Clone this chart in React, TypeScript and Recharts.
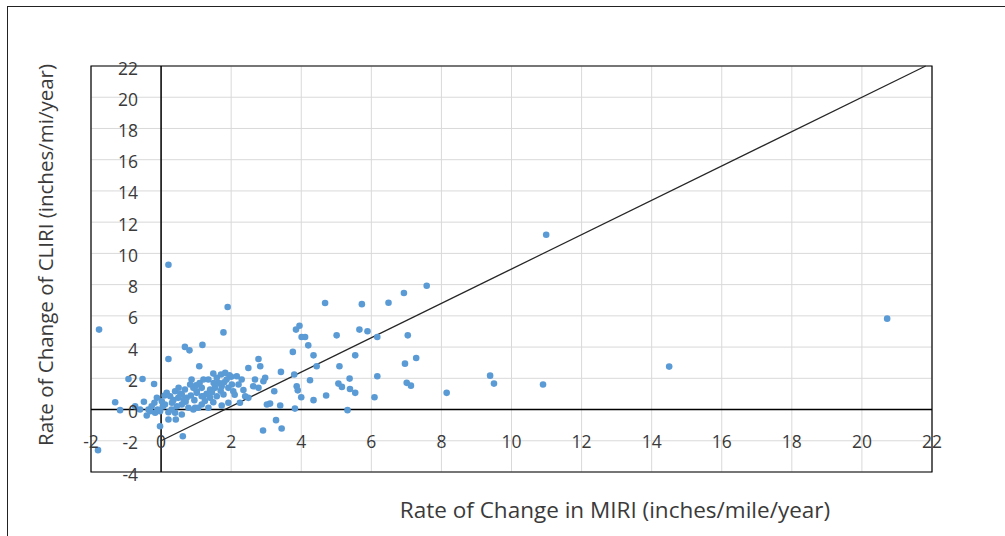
import React from 'react';
import { ScatterChart, Scatter, XAxis, YAxis, CartesianGrid, ReferenceLine, ReferenceArea } from 'recharts';

const WIDTH = 1005;
const HEIGHT = 536;
const MARGIN = { top: 66, right: 73, bottom: 63, left: 90 };
const AXIS_SIZE = 1;
const X_DOMAIN: [number, number] = [-2, 22];
const Y_DOMAIN: [number, number] = [-4, 22];
const xTicks = [-2, 0, 2, 4, 6, 8, 10, 12, 14, 16, 18, 20, 22];
const yTicks = [-4, -2, 0, 2, 4, 6, 8, 10, 12, 14, 16, 18, 20, 22];

const xTitle = 'Rate of Change in MIRI (inches/mile/year)';
const yTitle = 'Rate of Change of CLIRI (inches/mi/year)';

// Rate of change in MIRI (x)
const miriRates = [
  20.72, 14.5, 10.99, 10.9, 9.39, 9.5, 8.15, 7.58, 6.93, 6.49, 5.73, 4.68, 7.04, 7.28, 6.96, 7.01, 7.13,
  6.17, 5.89, 5.66, 5.01, 5.54, 5.09, 5.38, 5.06, 5.16, 5.39, 5.54, 6.17, 6.09, 5.32, 4.71, 4.35, 4.0,
  4.25, 4.44, 4.35, 4.2, 4.01, 4.11, 3.85, 3.95, 3.76, 3.42, 3.8, 3.87, 3.9, 3.82, 3.4, 3.23, 3.28, 3.44,
  3.11, 2.91, 3.02, 2.78, 2.83, 2.49, 2.97, 2.92, 2.68, 2.63, 2.78, 2.16, 2.21, 2.3, 2.4, 2.49, 2.25,
  1.83, 1.71, 1.49, 1.87, 1.59, 1.35, 1.21, 2.02, 1.92, 1.73, 1.54, 1.4, 1.16, 1.02, 2.06, 1.78, 1.59,
  1.4, 1.21, 1.92, 1.73, 1.49, 1.35, 1.16, 0.97, 1.9, 1.78, 1.18, 0.68, 0.81, 1.09, 0.21, 0.21, -1.77,
  -1.8, -1.31, -1.17, -0.93, -0.53, -0.2, -0.74, -0.36, -0.41, -0.6, -0.49, -0.19, -0.03, 0.21, 0.42,
  0.62, 0.87, 0.83, 0.92, 0.68, 0.59, 0.73, 1.02, 1.16, 0.16, 0.26, 0.4, 0.49, -0.12, 0.02, 0.11, 0.31,
  0.45, 0.59, 0.78, 0.92, 1.06, -0.27, -0.31, -0.17, -0.03, 0.21, 0.4, 0.59, 0.1, 0.35, 0.55, 0.7, 0.85,
  0.95, 1.1, 1.3, 1.25, 1.45, 1.65, 1.7, 1.95, 2.1, 2.35, 0.3, 0.05, -0.1, 0.65, 0.5, 1.0, 1.5, 1.8, 2.0,
];

// Rate of change of CLIRI (y)
const cliriRates = [
  5.82, 2.75, 11.19, 1.6, 2.17, 1.66, 1.07, 7.93, 7.46, 6.84, 6.75, 6.82, 4.75, 3.3, 2.94, 1.71, 1.53,
  4.65, 5.01, 5.12, 4.75, 3.47, 2.77, 1.98, 1.66, 1.45, 1.32, 1.07, 2.13, 0.79, -0.04, 0.9, 0.6, 0.79,
  1.88, 2.77, 3.47, 4.11, 4.65, 4.65, 5.12, 5.37, 3.69, 2.41, 2.24, 1.49, 1.23, 0.06, 0.26, 1.17, -0.68, -1.21,
  0.38, -1.34, 0.32, 3.24, 2.77, 2.66, 2.03, 1.81, 1.92, 1.49, 1.39, 2.13, 1.6, 1.92, 0.85, 0.75, 0.43,
  2.35, 2.24, 2.3, 1.92, 2.03, 1.92, 1.92, 1.6, 1.39, 1.49, 1.39, 1.28, 1.39, 1.17, 1.17, 0.96, 0.85,
  0.75, 0.85, 0.43, 0.26, 0.47, 0.11, 0.32, 0.11, 6.57, 4.94, 4.14, 4.01, 3.79, 2.77, 3.24, 9.27, 5.12,
  -2.6, 0.47, -0.04, 1.96, 1.96, 1.64, 0.21, 0.0, -0.38, 0.0, 0.5, 0.43, -1.07, -0.64, -0.64,
  -1.71, 1.92, 1.6, 1.39, 1.28, 0.96, 0.75, 1.07, 0.85, 1.07, 0.85, 1.17, 0.75, 0.75, 0.53, 0.32, 0.43,
  0.21, 0.32, 0.11, 0.0, 0.11, 0.21, -0.11, -0.21, -0.11, -0.17, -0.21, -0.32, 0.9, 0.6, 1.0, 0.5, 0.9,
  0.6, 1.7, 1.0, 0.55, 1.1, 1.7, 1.2, 2.2, 0.95, 1.25, 0.0, 0.2, 0.0, 0.6, 1.4, 1.55, 1.7, 1.75, 2.1,
];

// Reference line y = 1.1x - 2, drawn from x = 0 to the top of the plot
const lineStart = { x: 0, y: -2 };
const lineEnd = { x: 21.82, y: 22 };

const data = miriRates.map((x, i) => ({ x, y: cliriRates[i] }));

const PLOT_LEFT = MARGIN.left + AXIS_SIZE;
const PLOT_TOP = MARGIN.top;
const PLOT_W = WIDTH - PLOT_LEFT - MARGIN.right;
const PLOT_H = HEIGHT - MARGIN.top - MARGIN.bottom - AXIS_SIZE;
const ZERO_X_PX = PLOT_LEFT + (PLOT_W * (0 - X_DOMAIN[0])) / (X_DOMAIN[1] - X_DOMAIN[0]);
const ZERO_Y_PX = PLOT_TOP + (PLOT_H * (Y_DOMAIN[1] - 0)) / (Y_DOMAIN[1] - Y_DOMAIN[0]);

const FONT = '"Open Sans", "Noto Sans", sans-serif';
const TEXT_COLOR = '#3a3a3a';

const XTick = (props: any) => {
  const { x, payload } = props;
  return (
    <text x={x} y={ZERO_Y_PX + 38} textAnchor="middle" fontFamily={FONT} fontSize={17.5} fill={TEXT_COLOR}>
      {payload.value}
    </text>
  );
};

const YTick = (props: any) => {
  const { y, payload } = props;
  return (
    <text x={ZERO_X_PX - 23} y={y + 8.5} textAnchor="end" fontFamily={FONT} fontSize={17.5} fill={TEXT_COLOR}>
      {payload.value}
    </text>
  );
};

const Dot = (props: any) => <circle cx={props.cx} cy={props.cy} r={3.3} fill="#5b9bd5" />;

export default function App() {
  return (
    <div style={{ position: 'absolute', left: 0, top: 0, width: WIDTH, height: HEIGHT, overflow: 'hidden', background: '#fff' }}>
      <div
        style={{
          position: 'absolute',
          left: 7,
          top: 6,
          width: WIDTH + 100,
          height: HEIGHT + 100,
          border: '1px solid #222',
          boxSizing: 'border-box',
        }}
      />
      <div style={{ position: 'absolute', left: 0, top: 0 }}>
        <ScatterChart width={WIDTH} height={HEIGHT} margin={MARGIN}>
          <CartesianGrid stroke="#d9d9d9" strokeWidth={1} />
          <XAxis
            type="number"
            dataKey="x"
            domain={X_DOMAIN}
            ticks={xTicks}
            interval={0}
            height={AXIS_SIZE}
            axisLine={false}
            tickLine={false}
            tick={XTick}
            allowDataOverflow
          />
          <YAxis
            type="number"
            dataKey="y"
            domain={Y_DOMAIN}
            ticks={yTicks}
            interval={0}
            width={AXIS_SIZE}
            axisLine={false}
            tickLine={false}
            tick={YTick}
            allowDataOverflow
          />
          <ReferenceArea x1={X_DOMAIN[0]} x2={X_DOMAIN[1]} y1={Y_DOMAIN[0]} y2={Y_DOMAIN[1]} fill="none" stroke="#000" strokeWidth={1.2} fillOpacity={0} />
          <ReferenceLine x={0} stroke="#000" strokeWidth={1.5} />
          <ReferenceLine y={0} stroke="#000" strokeWidth={1.5} />
          <Scatter data={data} shape={<Dot />} isAnimationActive={false} />
          <ReferenceLine segment={[lineStart, lineEnd]} stroke="#262626" strokeWidth={1.2} />
        </ScatterChart>
      </div>
      <svg width={WIDTH} height={HEIGHT} style={{ position: 'absolute', left: 0, top: 0, pointerEvents: 'none' }}>
        <text x={615} y={518} textAnchor="middle" fontFamily={FONT} fontSize={22.5} fill={TEXT_COLOR}>
          {xTitle}
        </text>
        <text x={53} y={255} textAnchor="middle" transform="rotate(-90 53 255)" fontFamily={FONT} fontSize={20.5} fill={TEXT_COLOR}>
          {yTitle}
        </text>
      </svg>
    </div>
  );
}
